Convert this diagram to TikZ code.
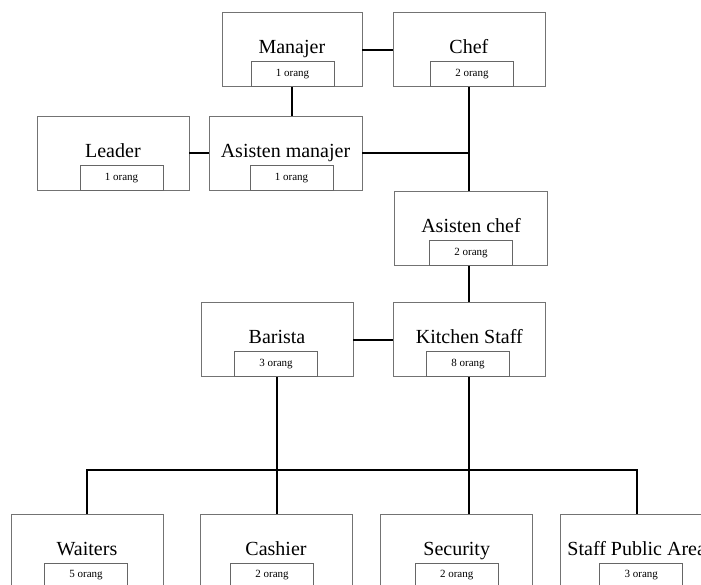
\documentclass[tikz,border=0pt]{standalone}
\usepackage{fontspec}
\setmainfont{Liberation Serif}
\tikzset{
  unit/.style={draw=black!55, line width=0.8pt, minimum height=74pt, inner sep=0pt},
  title/.style={anchor=base, font=\fontsize{20}{22}\selectfont},
  count/.style={draw=black!60, line width=0.8pt, anchor=south, minimum width=83pt,
    minimum height=25pt, inner sep=0pt, font=\fontsize{11}{12}\selectfont},
  link/.style={line width=1.8pt}
}
\def\orgunit[#1](#2)(#3)[#4]#5#6% Syntax: [box width] (name) (centre) [count shift] {title} {count}
    { \node[unit, minimum width=#1] (#2) at (#3) {};
      \node[title, yshift=-4pt] at (#2.center) {#5};
      \node[count, xshift=#4] at (#2.south) {#6}; }

\begin{document}
\begin{tikzpicture}[x=1pt, y=-1pt]
   \useasboundingbox[fill=white] (0,0) rectangle (701,585);
   \clip (0,0) rectangle (701,585);

   % top levels
   \orgunit[140pt](mgr)(291.9,49.9)[0.6pt]{Manajer}{1 orang}
   \orgunit[152pt](chef)(468.9,49.9)[3pt]{Chef}{2 orang}
   \orgunit[152pt](leader)(112.9,153.3)[8.6pt]{Leader}{1 orang}
   \orgunit[153pt](asmgr)(285.5,153.3)[6pt]{Asisten manajer}{1 orang}
   \orgunit[153pt](aschef)(471,228.5)[0pt]{Asisten chef}{2 orang}
   \orgunit[152pt](barista)(277,339.7)[-1pt]{Barista}{3 orang}
   \orgunit[152pt](kitchen)(469.3,339.7)[-1.3pt]{Kitchen Staff}{8 orang}

   % bottom row
   \orgunit[152pt](waiters)(87,551)[-1pt]{Waiters}{5 orang}
   \orgunit[152pt](cashier)(276,551)[-4pt]{Cashier}{2 orang}
   \orgunit[152pt](security)(456.7,551)[0pt]{Security}{2 orang}
   \orgunit[152pt](spa)(636.7,551)[4.6pt]{Staff Public Area}{3 orang}

   \draw[link] (mgr) -- (chef);
   \draw[link] (mgr.south) -- (mgr.south |- asmgr.north);
   \draw[link] (leader) -- (asmgr);
   \coordinate (joint) at (asmgr.east -| chef.south);
   \draw[link] (asmgr.east) -- (joint);
   \draw[link] (chef.south) -- (chef.south |- aschef.north);
   \draw[link] (kitchen.north |- aschef.south) -- (kitchen.north);
   \draw[link] (barista) -- (kitchen);
   \draw[link] (barista.south) -- (barista.south |- cashier.north);
   \draw[link] (kitchen.south) -- (kitchen.south |- security.north);
   \coordinate (bus) at (0,470);
   \draw[link] (waiters.north) -- (waiters.north |- bus) -- (spa.north |- bus) -- (spa.north);
 \end{tikzpicture}
\end{document}
